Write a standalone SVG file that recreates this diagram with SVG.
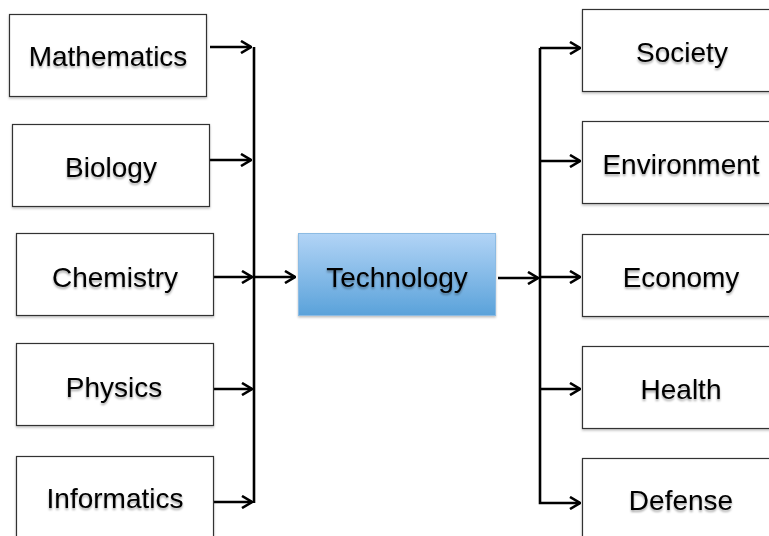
<svg xmlns="http://www.w3.org/2000/svg" width="769" height="536" viewBox="0 0 769 536">
<style>
.box{fill:#fff;stroke:#333;stroke-width:1.2}
.lbl{font-family:"Liberation Sans",Arial,sans-serif;font-size:28px;fill:#000;text-anchor:middle}
.con{fill:none;stroke:#000;stroke-width:2.6}
</style>
<defs>
<linearGradient id="tg" x1="0" y1="0" x2="0" y2="1">
<stop offset="0" stop-color="#b2d4f6"/>
<stop offset="1" stop-color="#5aa2da"/>
</linearGradient>
<filter id="sh" x="-20%" y="-30%" width="140%" height="160%">
<feDropShadow dx="0" dy="2" stdDeviation="1.2" flood-color="#000" flood-opacity="0.35"/>
</filter>
<filter id="bs" x="-5%" y="-5%" width="110%" height="115%">
<feDropShadow dx="0" dy="1.5" stdDeviation="1" flood-color="#000" flood-opacity="0.25"/>
</filter>
<marker id="ah" viewBox="0 0 12 14" refX="11" refY="7" markerWidth="12" markerHeight="14" markerUnits="userSpaceOnUse" orient="auto">
<path d="M1,1 L11,7 L1,13" fill="none" stroke="#000" stroke-width="2.6"/>
</marker>
</defs>
<g id="connectors">
<path class="con" d="M254,47 V503"/>
<path class="con" d="M210,47 H251" marker-end="url(#ah)"/>
<path class="con" d="M210,160 H251" marker-end="url(#ah)"/>
<path class="con" d="M212,277 H252" marker-end="url(#ah)"/>
<path class="con" d="M212,389 H252" marker-end="url(#ah)"/>
<path class="con" d="M210,502 H252" marker-end="url(#ah)"/>
<path class="con" d="M254,277 H295" marker-end="url(#ah)"/>
<path class="con" d="M498,278 H538" marker-end="url(#ah)"/>
<path class="con" d="M540,48 V503 H580" marker-end="url(#ah)"/>
<path class="con" d="M540,48 H580" marker-end="url(#ah)"/>
<path class="con" d="M540,161 H580" marker-end="url(#ah)"/>
<path class="con" d="M540,277 H580" marker-end="url(#ah)"/>
<path class="con" d="M540,389 H580" marker-end="url(#ah)"/>
</g>
<g id="mathematics"><rect class="box" x="9.5" y="14.5" width="197" height="82" filter="url(#bs)"/><text class="lbl" x="108" y="66" filter="url(#sh)">Mathematics</text></g>
<g id="biology"><rect class="box" x="12.5" y="124.5" width="197" height="82" filter="url(#bs)"/><text class="lbl" x="111" y="177" filter="url(#sh)">Biology</text></g>
<g id="chemistry"><rect class="box" x="16.5" y="233.5" width="197" height="82" filter="url(#bs)"/><text class="lbl" x="115" y="287" filter="url(#sh)">Chemistry</text></g>
<g id="physics"><rect class="box" x="16.5" y="343.5" width="197" height="82" filter="url(#bs)"/><text class="lbl" x="114" y="397" filter="url(#sh)">Physics</text></g>
<g id="informatics"><rect class="box" x="16.5" y="456.5" width="197" height="90" filter="url(#bs)"/><text class="lbl" x="115" y="508" filter="url(#sh)">Informatics</text></g>
<g id="technology"><rect x="298.5" y="233.5" width="197" height="82" fill="url(#tg)" stroke="#8cbbe3" stroke-width="1" filter="url(#bs)"/><text class="lbl" x="397" y="287" filter="url(#sh)">Technology</text></g>
<g id="society"><rect class="box" x="582.5" y="9.5" width="200" height="82" filter="url(#bs)"/><text class="lbl" x="682" y="62" filter="url(#sh)">Society</text></g>
<g id="environment"><rect class="box" x="582.5" y="121.5" width="200" height="82" filter="url(#bs)"/><text class="lbl" x="681" y="174" filter="url(#sh)">Environment</text></g>
<g id="economy"><rect class="box" x="582.5" y="234.5" width="200" height="82" filter="url(#bs)"/><text class="lbl" x="681" y="287" filter="url(#sh)">Economy</text></g>
<g id="health"><rect class="box" x="582.5" y="346.5" width="200" height="82" filter="url(#bs)"/><text class="lbl" x="681" y="399" filter="url(#sh)">Health</text></g>
<g id="defense"><rect class="box" x="582.5" y="458.5" width="200" height="90" filter="url(#bs)"/><text class="lbl" x="681" y="510" filter="url(#sh)">Defense</text></g>
</svg>
